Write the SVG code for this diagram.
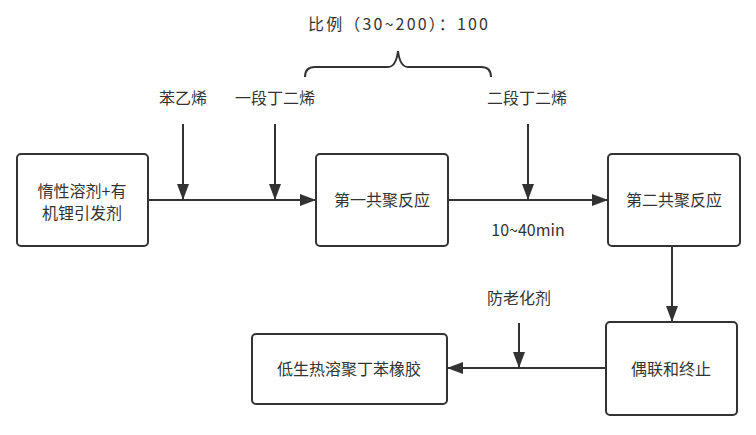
<svg xmlns="http://www.w3.org/2000/svg" width="756" height="435" viewBox="0 0 756 435">
<style>
.box{fill:#fff;stroke:#333;stroke-width:2}
.ln{fill:none;stroke:#333;stroke-width:2}
text{font-family:"Noto Sans CJK SC","Liberation Sans",sans-serif;font-size:16px;fill:#333;text-anchor:middle}
</style>
<defs>
<marker id="ah" viewBox="0 0 16 12" refX="16" refY="6" markerWidth="16" markerHeight="12" markerUnits="userSpaceOnUse" orient="auto">
<path d="M0,0 L16,6 L0,12 Z" fill="#333"/>
</marker>
</defs>
<rect width="756" height="435" fill="#fff"/>
<g id="connectors">
<line class="ln" x1="148" y1="200" x2="316" y2="200" marker-end="url(#ah)"/>
<line class="ln" x1="183" y1="124" x2="183" y2="200" marker-end="url(#ah)"/>
<line class="ln" x1="275" y1="124" x2="275" y2="200" marker-end="url(#ah)"/>
<line class="ln" x1="448" y1="200" x2="608" y2="200" marker-end="url(#ah)"/>
<line class="ln" x1="528" y1="124" x2="528" y2="200" marker-end="url(#ah)"/>
<line class="ln" x1="672" y1="247" x2="672" y2="322" marker-end="url(#ah)"/>
<line class="ln" x1="606" y1="368" x2="447" y2="368" marker-end="url(#ah)"/>
<line class="ln" x1="519" y1="323" x2="519" y2="368" marker-end="url(#ah)"/>
</g>
<g id="brace">
<path class="ln" d="M305,77 Q305,67 315,67 L388,67 Q396,67 398,51 Q400,67 408,67 L481,67 Q491,67 491,77"/>
<text x="398" y="30" textLength="180" lengthAdjust="spacing">比例（30~200）：100</text>
</g>
<g id="labels">
<text x="183" y="104">苯乙烯</text>
<text x="275" y="104">一段丁二烯</text>
<text x="527" y="104">二段丁二烯</text>
<text x="528" y="236">10~40min</text>
<text x="519" y="304">防老化剂</text>
</g>
<g id="n1">
<rect class="box" x="17" y="154" width="131" height="92" rx="4"/>
<text x="82" y="197">惰性溶剂+有</text>
<text x="82" y="219">机锂引发剂</text>
</g>
<g id="n2">
<rect class="box" x="316" y="154" width="132" height="92" rx="4"/>
<text x="382" y="206">第一共聚反应</text>
</g>
<g id="n3">
<rect class="box" x="608" y="154" width="132" height="92" rx="4"/>
<text x="674" y="206">第二共聚反应</text>
</g>
<g id="n4">
<rect class="box" x="606" y="322" width="131" height="93" rx="4"/>
<text x="671" y="375">偶联和终止</text>
</g>
<g id="n5">
<rect class="box" x="252" y="334" width="195" height="70" rx="4"/>
<text x="349" y="375">低生热溶聚丁苯橡胶</text>
</g>
</svg>
